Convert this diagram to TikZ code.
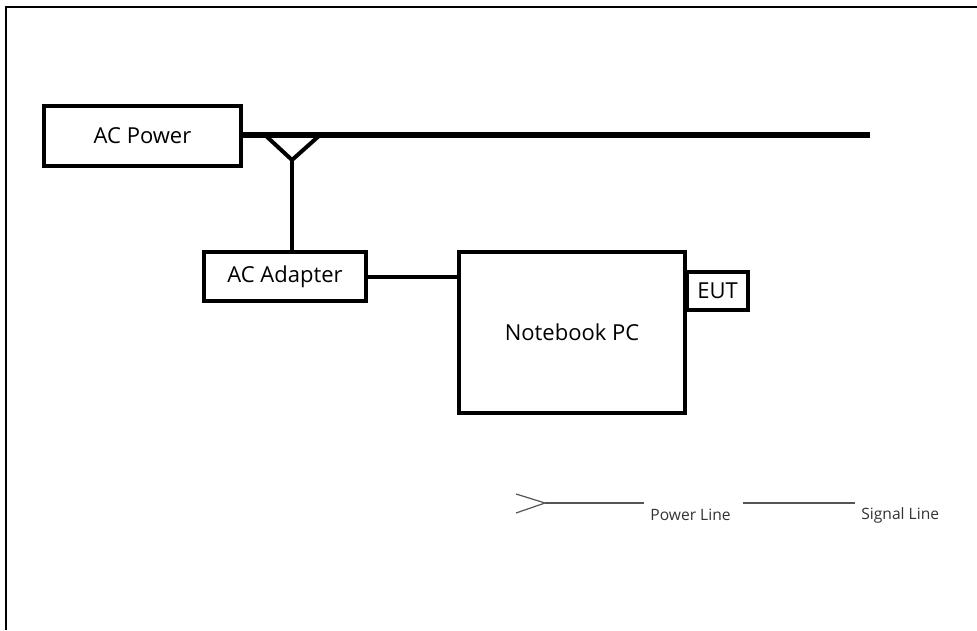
\documentclass[tikz,border=0pt]{standalone}
\usepackage{fontspec}
\setmainfont{Open Sans}
\usepackage{xcolor}
\usepackage{tikz}
\usetikzlibrary{calc}
\definecolor{legendgray}{HTML}{555555}
\tikzset{
  box/.style={draw, rectangle, line width=2pt, align=center, font=\fontsize{11}{13}\selectfont, inner sep=0pt},
  mainline/.style={line width=3pt},
  wire/.style={line width=2pt},
  frameline/.style={line width=1.2pt},
  legendline/.style={line width=0.6pt, legendgray},
  legendtext/.style={font=\fontsize{7.8}{9}\selectfont, text=black!80, anchor=west, inner sep=0pt}
}

\begin{document}
\begin{tikzpicture}[x=0.5pt,y=-0.5pt]
\useasboundingbox (0,0) rectangle (977,630);
\draw[frameline] (977,7) -- (6,7) -- (6,630);

\node[box,minimum width=98.5pt,minimum height=30pt] (acpower) at (142.5,136) {AC Power};
\node[box,minimum width=81pt,minimum height=24.5pt] (adapter) at (285,276.5) {AC Adapter};
\node[box,minimum width=113pt,minimum height=80.5pt] (notebook) at (572,332.5) {Notebook PC};
\node[box,minimum width=30.5pt,minimum height=19pt] (eut) at (717.5,291) {EUT};

\coordinate (mainend) at (870,135);
\coordinate (vleft) at (265,135);
\coordinate (vright) at (320,135);
\coordinate (vtip) at (292,160);

\draw[mainline] (acpower.east |- mainend) -- (mainend);
\draw[wire,line join=miter] (vleft) -- (vtip) -- (vright);
\draw[wire] (vtip) -- (vtip |- adapter.north);
\draw[wire] (adapter.east) -- (adapter.east -| notebook.west);

% legend
\coordinate (plstart) at (545,503);
\coordinate (plend) at (644,503);
\coordinate (slstart) at (743,503);
\coordinate (slend) at (855,503);
\draw[legendline] (516,494) -- (plstart) -- (516,513);
\draw[legendline] (plstart) -- (plend);
\node[legendtext] (pltext) at (650,515) {Power Line};
\draw[legendline] (slstart) -- (slend);
\node[legendtext] (sltext) at (861,515) {Signal Line};
\end{tikzpicture}
\end{document}
